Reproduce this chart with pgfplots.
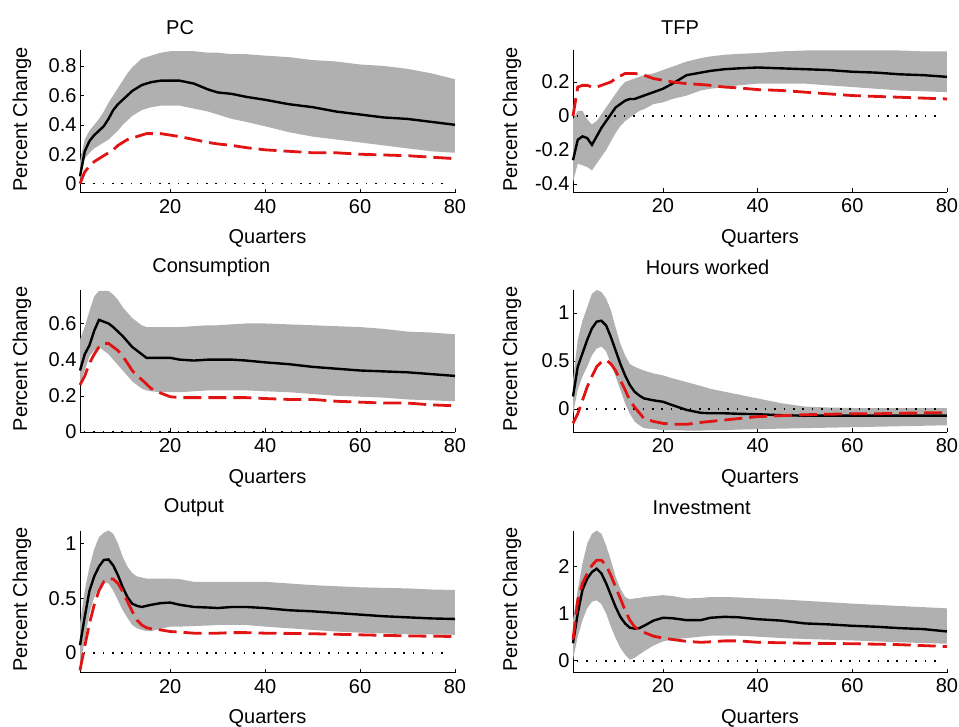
\documentclass[border=0pt]{standalone}
\usepackage{fontspec}
\setmainfont{Liberation Sans}
\usepackage{pgfplots}
\usepackage{pgfplotstable}
\pgfplotsset{compat=1.18}
\usepgfplotslibrary{fillbetween}
\definecolor{bandgray}{RGB}{176,176,176}
\definecolor{irfred}{RGB}{225,20,20}

% columns: x lo hi med red
\pgfplotstableread{
x lo hi med red
1 0.02 0.15 0.05 0.0
2 0.17 0.30 0.22 0.08
3 0.21 0.36 0.29 0.12
4 0.24 0.40 0.33 0.15
5 0.26 0.44 0.36 0.17
6 0.28 0.49 0.39 0.19
7 0.30 0.55 0.44 0.21
8 0.33 0.60 0.50 0.23
9 0.36 0.65 0.54 0.26
10 0.40 0.70 0.57 0.28
11 0.43 0.75 0.60 0.30
12 0.46 0.79 0.63 0.31
13 0.48 0.82 0.65 0.32
14 0.50 0.85 0.67 0.33
15 0.51 0.86 0.68 0.34
16 0.52 0.87 0.69 0.34
18 0.53 0.89 0.70 0.34
20 0.53 0.90 0.70 0.33
22 0.53 0.90 0.70 0.32
25 0.51 0.90 0.68 0.30
28 0.49 0.89 0.64 0.28
30 0.47 0.89 0.62 0.27
33 0.44 0.88 0.61 0.26
36 0.42 0.88 0.59 0.245
40 0.39 0.87 0.57 0.23
45 0.35 0.86 0.54 0.22
50 0.32 0.84 0.52 0.21
55 0.30 0.83 0.49 0.21
60 0.28 0.81 0.47 0.20
65 0.26 0.80 0.45 0.195
70 0.24 0.78 0.44 0.19
75 0.22 0.75 0.42 0.18
80 0.21 0.71 0.40 0.17
}\dPC

\pgfplotstableread{
x lo hi med red
1 -0.39 -0.02 -0.26 0.0
2 -0.28 0.03 -0.14 0.17
3 -0.29 0.03 -0.12 0.18
4 -0.30 -0.02 -0.13 0.18
5 -0.32 -0.05 -0.17 0.17
6 -0.28 -0.03 -0.12 0.17
7 -0.24 0.01 -0.07 0.18
8 -0.20 0.05 -0.03 0.19
9 -0.15 0.09 0.01 0.20
10 -0.10 0.13 0.05 0.22
11 -0.06 0.17 0.07 0.235
12 -0.03 0.20 0.09 0.25
13 -0.01 0.21 0.10 0.25
14 0.01 0.22 0.10 0.25
15 0.03 0.23 0.11 0.245
16 0.04 0.24 0.12 0.24
18 0.07 0.25 0.14 0.22
20 0.08 0.27 0.16 0.21
22 0.10 0.29 0.19 0.20
25 0.12 0.32 0.24 0.19
28 0.15 0.34 0.255 0.185
30 0.16 0.35 0.265 0.18
33 0.17 0.36 0.275 0.17
36 0.18 0.365 0.28 0.165
40 0.19 0.37 0.285 0.155
45 0.19 0.38 0.28 0.15
50 0.19 0.385 0.275 0.14
55 0.18 0.385 0.27 0.13
60 0.17 0.385 0.26 0.12
65 0.16 0.385 0.255 0.115
70 0.15 0.385 0.245 0.11
75 0.145 0.38 0.24 0.105
80 0.14 0.38 0.23 0.10
}\dTFP

\pgfplotstableread{
x lo hi med red
1 0.27 0.51 0.34 0.26
2 0.34 0.58 0.43 0.31
3 0.42 0.67 0.48 0.38
4 0.45 0.75 0.56 0.43
5 0.47 0.78 0.62 0.47
6 0.45 0.78 0.61 0.49
7 0.43 0.78 0.60 0.49
8 0.40 0.76 0.58 0.47
9 0.37 0.73 0.555 0.45
10 0.34 0.69 0.53 0.42
11 0.31 0.66 0.50 0.38
12 0.28 0.63 0.47 0.34
13 0.26 0.61 0.45 0.31
14 0.24 0.59 0.43 0.29
15 0.23 0.58 0.41 0.265
16 0.225 0.58 0.41 0.24
18 0.22 0.58 0.41 0.215
20 0.22 0.58 0.41 0.195
22 0.22 0.58 0.40 0.19
25 0.225 0.585 0.395 0.19
28 0.23 0.59 0.40 0.19
30 0.23 0.59 0.40 0.19
33 0.23 0.595 0.40 0.19
36 0.23 0.60 0.395 0.19
40 0.225 0.60 0.385 0.185
45 0.22 0.595 0.375 0.18
50 0.21 0.59 0.36 0.18
55 0.20 0.585 0.35 0.17
60 0.195 0.58 0.34 0.165
65 0.19 0.57 0.335 0.16
70 0.18 0.555 0.33 0.16
75 0.175 0.55 0.32 0.15
80 0.17 0.54 0.31 0.145
}\dCons

\pgfplotstableread{
x lo hi med red
1 -0.05 0.30 0.13 -0.15
2 0.20 0.72 0.44 -0.05
3 0.34 0.92 0.58 0.09
4 0.44 1.06 0.72 0.23
5 0.56 1.20 0.84 0.34
6 0.63 1.24 0.91 0.44
7 0.65 1.22 0.92 0.49
8 0.60 1.15 0.87 0.51
9 0.47 1.03 0.75 0.47
10 0.34 0.85 0.61 0.40
11 0.20 0.68 0.47 0.30
12 0.06 0.56 0.35 0.20
13 -0.05 0.47 0.25 0.09
14 -0.13 0.44 0.18 0.02
15 -0.17 0.42 0.14 -0.04
16 -0.20 0.40 0.11 -0.10
18 -0.21 0.37 0.09 -0.13
20 -0.22 0.35 0.075 -0.15
22 -0.22 0.32 0.04 -0.16
25 -0.225 0.28 -0.01 -0.16
28 -0.225 0.24 -0.04 -0.14
30 -0.22 0.21 -0.045 -0.13
33 -0.22 0.18 -0.045 -0.115
36 -0.215 0.15 -0.05 -0.10
40 -0.21 0.11 -0.055 -0.08
45 -0.205 0.06 -0.065 -0.07
50 -0.20 0.025 -0.07 -0.06
55 -0.195 0.015 -0.07 -0.055
60 -0.19 0.01 -0.07 -0.05
65 -0.185 0.01 -0.07 -0.05
70 -0.18 0.01 -0.07 -0.045
75 -0.175 0.01 -0.07 -0.04
80 -0.17 0.01 -0.07 -0.04
}\dHours

\pgfplotstableread{
x lo hi med red
1 -0.12 0.27 0.07 -0.16
2 0.12 0.57 0.33 0.06
3 0.36 0.79 0.57 0.27
4 0.51 0.95 0.70 0.44
5 0.60 1.06 0.79 0.57
6 0.65 1.10 0.85 0.65
7 0.635 1.12 0.855 0.68
8 0.57 1.09 0.80 0.675
9 0.48 1.00 0.71 0.635
10 0.39 0.88 0.60 0.56
11 0.32 0.79 0.51 0.47
12 0.255 0.73 0.45 0.38
13 0.225 0.70 0.43 0.30
14 0.21 0.69 0.42 0.255
15 0.20 0.68 0.43 0.23
16 0.20 0.68 0.44 0.22
18 0.22 0.68 0.455 0.21
20 0.24 0.68 0.46 0.195
22 0.24 0.675 0.44 0.19
25 0.245 0.65 0.42 0.18
28 0.25 0.65 0.415 0.18
30 0.255 0.65 0.41 0.18
33 0.255 0.65 0.42 0.185
36 0.255 0.65 0.42 0.185
40 0.24 0.65 0.41 0.18
45 0.225 0.635 0.39 0.178
50 0.21 0.62 0.38 0.175
55 0.195 0.61 0.365 0.17
60 0.185 0.60 0.35 0.165
65 0.178 0.595 0.335 0.16
70 0.17 0.59 0.325 0.155
75 0.168 0.58 0.315 0.152
80 0.165 0.575 0.31 0.15
}\dOut

\pgfplotstableread{
x lo hi med red
1 0.02 0.86 0.37 0.45
2 0.51 1.50 1.00 1.28
3 0.86 2.06 1.50 1.64
4 1.11 2.48 1.74 1.85
5 1.25 2.69 1.88 2.02
6 1.28 2.76 1.95 2.13
7 1.20 2.69 1.85 2.13
8 1.00 2.44 1.64 2.02
9 0.72 2.13 1.39 1.81
10 0.48 1.78 1.14 1.56
11 0.27 1.53 0.93 1.32
12 0.13 1.35 0.79 1.07
13 0.02 1.30 0.70 0.86
14 0.06 1.32 0.68 0.72
15 0.13 1.33 0.69 0.65
16 0.20 1.35 0.74 0.60
18 0.32 1.37 0.85 0.52
20 0.41 1.39 0.91 0.48
22 0.45 1.37 0.90 0.45
25 0.48 1.32 0.86 0.41
28 0.51 1.33 0.86 0.39
30 0.53 1.35 0.91 0.40
33 0.53 1.35 0.93 0.42
36 0.53 1.34 0.92 0.42
40 0.51 1.32 0.88 0.39
45 0.48 1.30 0.85 0.38
50 0.46 1.27 0.79 0.37
55 0.445 1.24 0.77 0.365
60 0.43 1.21 0.74 0.36
65 0.41 1.185 0.72 0.35
70 0.39 1.16 0.69 0.34
75 0.375 1.135 0.67 0.32
80 0.36 1.11 0.62 0.30
}\dInv

\pgfplotsset{
  irf/.style={
    scale only axis, width=375pt, height=142pt,
    anchor=north west,
    xmin=1, xmax=80, xtick={20,40,60,80},
    axis x line*=bottom, axis y line*=left,
    axis line style={line width=0.8pt, black},
    tick align=inside, major tick length=4pt,
    tick style={black, line width=0.6pt},
    font=\fontsize{20}{24}\selectfont,
    /pgf/number format/assume math mode=true,
    xticklabel style={yshift=-3pt},
    xlabel={Quarters}, ylabel={Percent Change},
    every axis x label/.style={at={(axis description cs:0.5,0)}, anchor=center, yshift=-46pt},
    every axis y label/.style={at={(axis description cs:0,0.5)}, xshift=-58pt, yshift=2pt, rotate=90, anchor=center},
    every axis title/.style={anchor=center, yshift=23pt},
    clip=false,
  },
  irfR/.style={irf, width=374pt,
    every axis y label/.style={at={(axis description cs:0,0.5)}, xshift=-61pt, yshift=2pt, rotate=90, anchor=center}},
}

\newcommand{\irfplots}[1]{%
  \addplot[name path=hi, draw=none, forget plot] table[x=x, y=hi] {#1};
  \addplot[name path=lo, draw=none, forget plot] table[x=x, y=lo] {#1};
  \addplot[bandgray, draw=none] fill between[of=hi and lo];
  \addplot[black, line width=1.6pt, dash pattern=on 1.6pt off 7.8pt] coordinates {(1.8,0) (79,0)};
  \addplot[black, line width=2.4pt] table[x=x, y=med] {#1};
  \addplot[irfred, line width=2.8pt, dash pattern=on 18pt off 7pt] table[x=x, y=red] {#1};
}

\begin{document}
\begin{tikzpicture}

\begin{axis}[irf, at={(80pt,-50.5pt)}, ymin=-0.06, ymax=0.905,
  ytick={0,0.2,0.4,0.6,0.8}, title={PC},
  title style={at={(axis description cs:0.267,1)}}]
\irfplots{\dPC}
\end{axis}

\begin{axis}[irfR, at={(573pt,-50.5pt)}, ymin=-0.45, ymax=0.385,
  ytick={-0.4,-0.2,0,0.2}, title={TFP},
  title style={at={(axis description cs:0.286,1)}}]
\irfplots{\dTFP}
\end{axis}

\begin{axis}[irf, at={(80pt,-290pt)}, ymin=0, ymax=0.785,
  ytick={0,0.2,0.4,0.6}, title={Consumption},
  title style={at={(axis description cs:0.35,1)}}]
\irfplots{\dCons}
\end{axis}

\begin{axis}[irfR, at={(573pt,-290pt)}, ymin=-0.24, ymax=1.24,
  ytick={0,0.5,1}, title={Hours worked},
  title style={at={(axis description cs:0.36,1)}}]
\irfplots{\dHours}
\end{axis}

\begin{axis}[irf, at={(80pt,-530.5pt)}, ymin=-0.18, ymax=1.12,
  ytick={0,0.5,1}, title={Output},
  title style={at={(axis description cs:0.304,1)}}]
\irfplots{\dOut}
\end{axis}

\begin{axis}[irfR, at={(573pt,-530.5pt)}, ymin=-0.25, ymax=2.76,
  ytick={0,1,2}, title={Investment},
  title style={at={(axis description cs:0.344,1)}}]
\irfplots{\dInv}
\end{axis}

\pgfresetboundingbox
\useasboundingbox (0pt,0pt) rectangle (959pt,-727pt);
\end{tikzpicture}
\end{document}
